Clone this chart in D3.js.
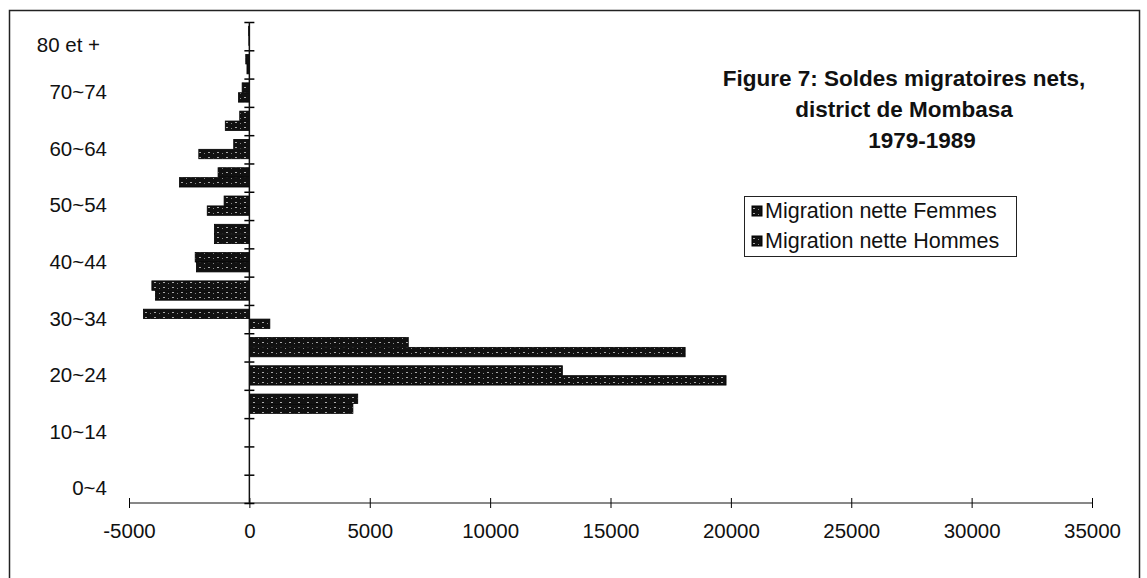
<!DOCTYPE html>
<meta charset="utf-8">
<style>
body { margin: 0; background: #fff; }
text { font-family: "Liberation Sans", Arial, Helvetica, sans-serif; fill: #111; }
.title { font-weight: bold; font-size: 22.5px; }
.tick text { font-size: 20.5px; }
.legend text { font-size: 21.5px; }
</style>
<body>
<script src="https://d3js.org/d3.v7.min.js"></script>
<script>

var w = 1147;
var h = 578;

// age groups, bottom to top
var ageGroups = ["0~4", "5~9", "10~14", "15~19", "20~24", "25~29", "30~34", "35~39",
    "40~44", "45~49", "50~54", "55~59", "60~64", "65~69", "70~74", "75~79", "80 et +"];

// net migration
var femmes = [0, 0, 0, 4300, 19800, 18100, 850, -3900, -2200, -1450, -1750, -2900, -2100, -1000, -450, -100, -20];
var hommes = [0, 0, 0, 4500, 13000, 6600, -4400, -4050, -2250, -1450, -1050, -1300, -650, -400, -300, -150, -30];

var seriesNames = ["Migration nette Femmes", "Migration nette Hommes"];
var xTicks = [-5000, 0, 5000, 10000, 15000, 20000, 25000, 30000, 35000];
var titleLines = ["Figure 7: Soldes migratoires nets,", "district de Mombasa", "1979-1989"];

var svg = d3.select("body")
    .append("svg")
    .attr("width", w)
    .attr("height", h);

// speckled dark fill, like the scanned bars
var defs = svg.append("defs");
var pat = defs.append("pattern")
    .attr("id", "speckle")
    .attr("width", 9).attr("height", 5)
    .attr("patternUnits", "userSpaceOnUse");
pat.append("rect").attr("width", 9).attr("height", 5).attr("fill", "#111");
pat.append("rect").attr("x", 1).attr("y", 2).attr("width", 2).attr("height", 1).attr("fill", "#aaa");
pat.append("rect").attr("x", 6).attr("y", 3).attr("width", 1).attr("height", 1).attr("fill", "#888");

// frame
svg.append("rect")
    .attr("x", 9.5).attr("y", 10.5)
    .attr("width", 1130).attr("height", 600)
    .attr("fill", "none")
    .attr("stroke", "#222")
    .attr("stroke-width", 1.5);

var xScale = d3.scaleLinear()
    .domain([-5000, 35000])
    .range([129, 1092]);

var yScale = d3.scaleBand()
    .domain(ageGroups)
    .range([503, 22])
    .paddingInner(0.3)
    .paddingOuter(0.15);

var yBound = d3.scaleLinear()
    .domain([0, ageGroups.length])
    .range([503, 22]);

var inner = d3.scaleBand()
    .domain(["hommes", "femmes"])
    .range([0, yScale.bandwidth()]);

var rows = ageGroups.map(function(g, i) {
    return {group: g, femmes: femmes[i], hommes: hommes[i]};
});

// bars
["hommes", "femmes"].forEach(function(key) {
    svg.append("g").selectAll("rect")
        .data(rows.filter(function(d) { return d[key] !== 0; }))
        .enter()
        .append("rect")
        .attr("x", function(d) { return xScale(Math.min(0, d[key])); })
        .attr("y", function(d) { return yScale(d.group) + inner(key); })
        .attr("width", function(d) { return Math.abs(xScale(d[key]) - xScale(0)); })
        .attr("height", inner.bandwidth() - 0.5)
        .attr("fill", "url(#speckle)")
        .attr("stroke", "#000")
        .attr("stroke-width", 0.8);
});

// x axis
var xAxis = d3.axisBottom(xScale)
    .tickValues(xTicks)
    .tickSize(10)
    .tickPadding(15)
    .tickFormat(function(d) { return String(d); });

svg.append("g")
    .attr("transform", "translate(0,498)")
    .call(xAxis)
    .call(function(g) { g.select(".domain").remove(); })
    .call(function(g) { g.selectAll("text").attr("fill", "#111"); });

svg.append("line")
    .attr("x1", xScale(-5000)).attr("x2", xScale(35000))
    .attr("y1", 503).attr("y2", 503)
    .attr("stroke", "#111");

// y axis: cross ticks at band boundaries
var yTickAxis = d3.axisLeft(yBound)
    .tickValues(d3.range(0, ageGroups.length + 1))
    .tickSize(10)
    .tickFormat("");

svg.append("g")
    .attr("transform", "translate(" + (xScale(0) + 5) + ",0)")
    .call(yTickAxis)
    .call(function(g) { g.select(".domain").remove(); })
    .call(function(g) { g.selectAll("line").attr("stroke-width", 1.5); });

svg.append("line")
    .attr("x1", xScale(0)).attr("x2", xScale(0))
    .attr("y1", yBound(ageGroups.length)).attr("y2", 503)
    .attr("stroke", "#111")
    .attr("stroke-width", 1.5);

// y labels, every other group
var yAxis = d3.axisLeft(yScale)
    .tickSize(0)
    .tickPadding(xScale(0) - 107)
    .tickFormat(function(d, i) { return i % 2 === 0 ? d : ""; });

svg.append("g")
    .attr("transform", "translate(" + xScale(0) + ",0)")
    .call(yAxis)
    .call(function(g) { g.select(".domain").remove(); })
    .call(function(g) { g.selectAll("text").attr("fill", "#111"); })
    .call(function(g) {
        // the top label sits a little lower in the original
        g.selectAll("text").filter(function(d) { return d === "80 et +"; })
            .attr("dy", "0.75em").attr("x", -(xScale(0) - 100));
    });

// title
svg.append("g").selectAll("text")
    .data(titleLines)
    .enter()
    .append("text")
    .attr("class", "title")
    .attr("x", function(d, i) { return i === 2 ? 922 : 904; })
    .attr("y", function(d, i) { return 86 + i * 31; })
    .attr("text-anchor", "middle")
    .text(function(d) { return d; });

// legend
var legend = svg.append("g").attr("class", "legend");
legend.append("rect")
    .attr("x", 744.5).attr("y", 196.5)
    .attr("width", 272).attr("height", 60)
    .attr("fill", "#fff")
    .attr("stroke", "#222");

var items = legend.selectAll("g.item")
    .data(seriesNames)
    .enter()
    .append("g")
    .attr("class", "item")
    .attr("transform", function(d, i) { return "translate(752," + (211 + i * 30) + ")"; });

items.append("rect")
    .attr("x", 0).attr("y", -5)
    .attr("width", 10).attr("height", 10)
    .attr("fill", "url(#speckle)")
    .attr("stroke", "#000");

items.append("text")
    .attr("x", 13)
    .attr("y", 7)
    .text(function(d) { return d; });

</script>
</body>
